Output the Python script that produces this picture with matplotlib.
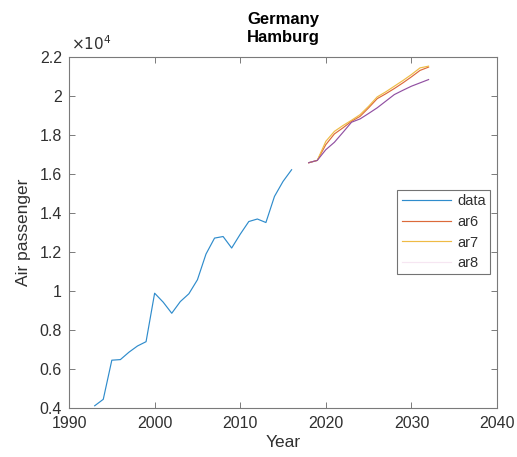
import matplotlib
matplotlib.use("Agg")
import matplotlib.pyplot as plt
import numpy as np

plt.rcParams['font.family'] = ['Liberation Sans', 'DejaVu Sans']

# Observed air passengers (Hamburg)
years_data = [1993, 1994, 1995, 1996, 1997, 1998, 1999, 2000, 2001, 2002, 2003,
              2004, 2005, 2006, 2007, 2008, 2009, 2010, 2011, 2012, 2013, 2014,
              2015, 2016]
passengers = [4090, 4420, 6430, 6460, 6840, 7160, 7380, 9870, 9410, 8840, 9440,
              9840, 10560, 11880, 12700, 12780, 12190, 12900, 13550, 13680, 13500,
              14840, 15610, 16210]

# Forecasts
years_fc = [2018, 2019, 2020, 2021, 2022, 2023, 2024, 2025, 2026, 2027, 2028,
            2029, 2030, 2031, 2032]
ar6 = [16570, 16690, 17500, 18050, 18360, 18700, 18950, 19390, 19860, 20110,
       20380, 20670, 20980, 21310, 21480]
ar7 = [16570, 16690, 17670, 18180, 18480, 18750, 19040, 19470, 19950, 20210,
       20500, 20790, 21100, 21440, 21530]
ar8 = [16570, 16690, 17240, 17620, 18130, 18650, 18820, 19100, 19390, 19730,
       20070, 20290, 20500, 20670, 20840]

fig = plt.figure(figsize=(5.17, 4.57), dpi=100)
ax = fig.add_axes([0.1335, 0.1083, 0.8279, 0.767])

lw = 0.85
ax.plot(years_data, passengers, color='#2f8ccc', lw=lw, label='data')
ax.plot(years_fc, ar6, color='#dc6a3a', lw=lw, label='ar6')
ax.plot(years_fc, ar7, color='#efbb45', lw=lw, label='ar7')
ax.plot(years_fc, ar8, color='#9150a2', lw=lw, label='ar8')

ax.set_xlim(1990, 2040)
ax.set_ylim(4000, 22000)
ax.set_xticks([1990, 2000, 2010, 2020, 2030, 2040])
yt = np.arange(4000, 22001, 2000)
ax.set_yticks(yt)
ax.set_yticklabels(['0.4', '0.6', '0.8', '1', '1.2', '1.4', '1.6', '1.8', '2', '2.2'])

axis_col = '#303030'
for s in ax.spines.values():
    s.set_color('#7a7a7a')
    s.set_linewidth(0.8)
ax.tick_params(direction='in', length=4, width=0.7, colors='#7a7a7a',
               labelcolor=axis_col, labelsize=11.5, top=True, right=True)
ax.tick_params(axis='x', pad=6)
ax.tick_params(axis='y', pad=5)

ax.set_xlabel('Year', fontsize=12.5, color=axis_col, labelpad=3)
ax.set_ylabel('Air passenger', fontsize=12.5, color=axis_col, labelpad=6)
ax.set_title('Germany\nHamburg', fontsize=12, fontweight='bold', color='black',
             linespacing=1.2, pad=11)
ax.text(0.005, 1.01, r'$\times10^4$', transform=ax.transAxes, fontsize=11,
        color=axis_col, ha='left', va='bottom')

leg = ax.legend(loc='upper right', bbox_to_anchor=(0.984, 0.6205), fontsize=10.5,
                frameon=True, fancybox=False, handlelength=3.4, borderpad=0.3,
                labelspacing=0.45, handletextpad=0.4, borderaxespad=0)
leg.get_frame().set_edgecolor('#505050')
leg.get_frame().set_linewidth(0.8)
leg.get_lines()[3].set_color('#f6e6f2')
for t in leg.get_texts():
    t.set_color(axis_col)

fig.savefig('out.png', dpi=100)
